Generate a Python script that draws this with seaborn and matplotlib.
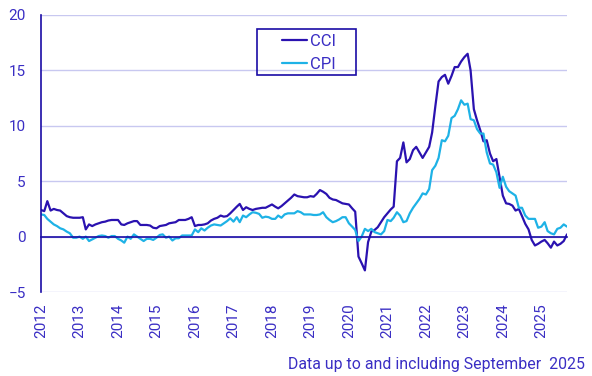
import numpy as np
import pandas as pd
import matplotlib
matplotlib.use("Agg")
import matplotlib.pyplot as plt
from matplotlib.patches import Rectangle
import seaborn as sns

# monthly annual change (%), Jan 2012 - Sep 2025
months = pd.date_range("2012-01-01", "2025-09-01", freq="MS")
cci = [2.4, 2.3, 3.2, 2.35, 2.5, 2.4, 2.35, 2.1, 1.85, 1.75, 1.7, 1.7,        # 2012
       1.7, 1.75, 0.65, 1.1, 0.95, 1.1, 1.2, 1.3, 1.35, 1.45, 1.5, 1.5,      # 2013
       1.5, 1.1, 1.05, 1.2, 1.3, 1.4, 1.4, 1.05, 1.05, 1.05, 1.0, 0.8,       # 2014
       0.75, 0.95, 1.0, 1.05, 1.2, 1.25, 1.3, 1.5, 1.5, 1.5, 1.6, 1.75,      # 2015
       0.95, 1.05, 1.05, 1.1, 1.2, 1.45, 1.6, 1.7, 1.9, 1.8, 1.85, 2.1,      # 2016
       2.4, 2.7, 2.95, 2.4, 2.65, 2.5, 2.4, 2.5, 2.55, 2.6, 2.6, 2.75,       # 2017
       2.9, 2.7, 2.55, 2.75, 3.0, 3.25, 3.5, 3.8, 3.65, 3.6, 3.55, 3.55,     # 2018
       3.65, 3.6, 3.85, 4.2, 4.05, 3.85, 3.5, 3.35, 3.3, 3.15, 3.0, 2.95,    # 2019
       2.9, 2.55, 2.25, -1.8, -2.4, -3.05, -0.5, 0.45, 0.6, 0.85, 1.3, 1.75, # 2020
       2.1, 2.45, 2.7, 6.8, 7.1, 8.5, 6.7, 7.0, 7.8, 8.1, 7.6, 7.1,          # 2021
       7.6, 8.1, 9.4, 11.8, 14.0, 14.4, 14.6, 13.8, 14.5, 15.3, 15.3, 15.8,  # 2022
       16.2, 16.5, 15.0, 11.5, 10.5, 9.6, 8.6, 8.7, 7.5, 6.8, 7.0, 5.4,      # 2023
       3.7, 3.0, 2.95, 2.8, 2.35, 2.5, 1.85, 1.15, 0.65, -0.3, -0.8, -0.65,  # 2024
       -0.45, -0.3, -0.6, -1.0, -0.45, -0.8, -0.65, -0.4, 0.2]               # 2025
cpi = [2.0, 1.95, 1.6, 1.35, 1.1, 0.95, 0.75, 0.65, 0.45, 0.3, -0.1, -0.1,   # 2012
       0.0, -0.2, 0.0, -0.4, -0.25, -0.1, 0.05, 0.1, 0.05, -0.1, 0.05, 0.05, # 2013
       -0.2, -0.35, -0.55, 0.0, -0.2, 0.2, 0.0, -0.2, -0.4, -0.2, -0.2, -0.3,# 2014
       -0.1, 0.15, 0.2, -0.1, 0.0, -0.35, -0.15, -0.15, 0.1, 0.1, 0.1, 0.1,  # 2015
       0.65, 0.4, 0.75, 0.55, 0.8, 1.0, 1.1, 1.05, 1.0, 1.2, 1.4, 1.65,      # 2016
       1.35, 1.75, 1.3, 1.9, 1.75, 2.0, 2.2, 2.15, 2.05, 1.7, 1.8, 1.75,     # 2017
       1.6, 1.6, 1.9, 1.7, 2.0, 2.1, 2.1, 2.1, 2.3, 2.2, 2.0, 2.0,           # 2018
       2.0, 1.95, 1.95, 2.0, 2.2, 1.75, 1.5, 1.3, 1.4, 1.55, 1.75, 1.75,     # 2019
       1.2, 0.9, 0.6, -0.4, 0.0, 0.7, 0.5, 0.7, 0.4, 0.3, 0.2, 0.5,          # 2020
       1.5, 1.4, 1.7, 2.2, 1.9, 1.3, 1.4, 2.1, 2.6, 3.0, 3.4, 3.9,           # 2021
       3.8, 4.3, 6.0, 6.4, 7.1, 8.7, 8.6, 9.1, 10.7, 10.9, 11.5, 12.3,       # 2022
       11.9, 12.0, 10.6, 10.5, 9.7, 9.3, 9.3, 7.6, 6.6, 6.5, 5.8, 4.4,       # 2023
       5.4, 4.5, 4.1, 3.9, 3.7, 2.6, 2.6, 1.9, 1.6, 1.6, 1.6, 0.8,           # 2024
       0.9, 1.3, 0.5, 0.3, 0.2, 0.7, 0.8, 1.1, 0.9]                          # 2025
series_names = ["CCI", "CPI"]
years = list(range(2012, 2026))
y_ticks = [-5, 0, 5, 10, 15, 20]
note = "Data up to and including September  2025"

dark = "#2a12b0"
light = "#1eb2e6"
text_col = "#3a2ec4"
axis_col = "#1a0ca6"
grid_col = "#c8c8f0"

df = pd.DataFrame({"month": months, series_names[0]: cci, series_names[1]: cpi})
df = df.melt(id_vars="month", var_name="series", value_name="change")

sns.set_style("white")
plt.rcParams["font.family"] = ["Roboto", "DejaVu Sans"]

W, H = 592, 376
fig, ax = plt.subplots(figsize=(W / 100, H / 100), dpi=100)
fig.subplots_adjust(left=41 / W, right=567 / W, bottom=1 - 292 / H, top=1 - 15 / H)

sns.lineplot(data=df, x="month", y="change", hue="series", hue_order=series_names,
             palette=[dark, light], linewidth=1.6, ax=ax)

# axes / grid
ax.set_ylim(-5, 20)
ax.set_yticks(y_ticks)
ax.set_xlim(months[0], months[-1])
ax.set_xticks(pd.to_datetime([f"{y}-01-01" for y in years]))
ax.set_xticklabels([str(y) for y in years])
ax.grid(axis="y", color=grid_col, linewidth=1)
ax.set_axisbelow(True)
ax.set_xlabel("")
ax.set_ylabel("")
for s in ["top", "right"]:
    ax.spines[s].set_visible(False)
ax.spines["bottom"].set_position(("data", 0))
for s in ["bottom", "left"]:
    ax.spines[s].set_color(axis_col)
    ax.spines[s].set_linewidth(1.2)
ax.tick_params(axis="x", direction="out", length=5, width=1, color=axis_col,
               pad=43, labelrotation=90, labelcolor=text_col, labelsize=11)
ax.tick_params(axis="y", direction="out", length=5, width=1, color=axis_col,
               pad=6, labelcolor=text_col, labelsize=11)

# legend (frame drawn separately: wide side padding, tight top/bottom)
handles, labels = ax.get_legend_handles_labels()
leg = ax.legend(handles=handles, labels=labels, loc="upper left",
                bbox_to_anchor=(282 / W, 1 - 33.5 / H), bbox_transform=fig.transFigure,
                frameon=False, fontsize=12, borderpad=0, borderaxespad=0,
                handlelength=1.5, labelspacing=0.5, handletextpad=0.2)
for t in leg.get_texts():
    t.set_color(text_col)
for h in leg.legend_handles:
    h.set_linewidth(1.6)
fig.patches.append(Rectangle((256.7 / W, 1 - 74.7 / H), (356 - 256.7) / W, (74.7 - 29.3) / H,
                             transform=fig.transFigure, fill=False,
                             edgecolor=axis_col, linewidth=1.2))

fig.text(585 / W, 1 - 369 / H, note, ha="right", va="baseline", color=text_col, fontsize=11.4)

plt.savefig("out.png", dpi=100)
